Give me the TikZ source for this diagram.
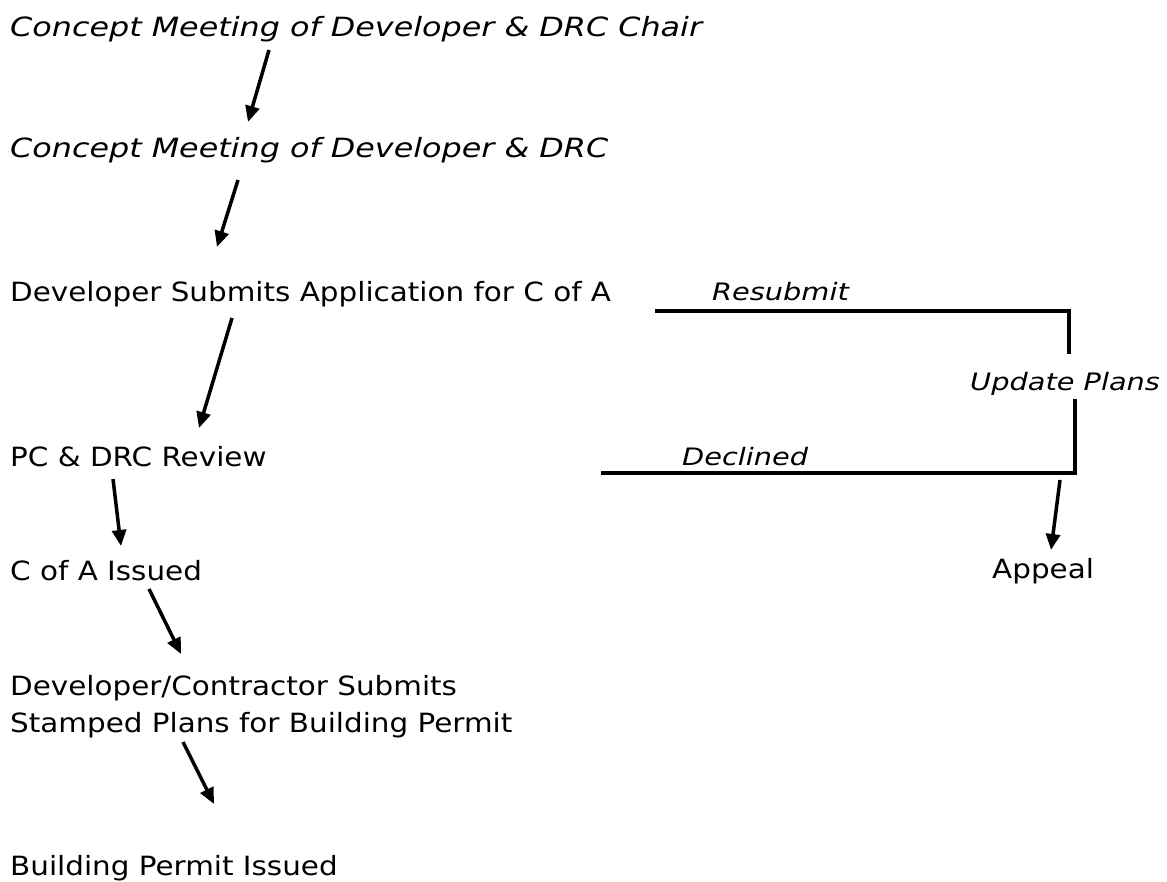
\documentclass[tikz,border=0pt]{standalone}
\usepackage{fontspec}
\setmainfont{DejaVu Sans}[FakeStretch=1.11]
\newfontfamily\remarkfont{DejaVu Sans}[FakeStretch=1.2]
\usetikzlibrary{arrows.meta}

\tikzset{
  stage/.style={anchor=base west, inner sep=0pt, align=left,
    font=\fontsize{26.5}{37}\selectfont},
  remark/.style={stage, font=\remarkfont\fontsize{26.5}{37}\selectfont\itshape},
  sidenote/.style={stage, font=\remarkfont\fontsize{24}{30}\selectfont\itshape},
  flow/.style={line width=3.5pt, -{Triangle[length=16pt,width=14pt]}},
  loopline/.style={line width=3.5pt},
}

\begin{document}
\begin{tikzpicture}[x=1pt, y=-1pt]
  \useasboundingbox (0,0) rectangle (1167,882);
  % main column
  \node[remark] (chair) at (10,37) {Concept Meeting of Developer \& DRC Chair};
  \node[remark] (drc) at (10,158) {Concept Meeting of Developer \& DRC};
  \node[stage] (apply) at (10,302) {Developer Submits Application for C of A};
  \node[stage] (review) at (10,466) {PC \& DRC Review};
  \node[stage] (issued) at (10,580) {C of A Issued};
  \node[stage] (stamped) at (10,732) {Developer/Contractor Submits\\Stamped Plans for Building Permit};
  \node[stage] (permit) at (10,875) {Building Permit Issued};
  % side branch
  \node[sidenote] (resubmit) at (712,301) {Resubmit};
  \node[sidenote] (update) at (970,390) {Update Plans};
  \node[sidenote] (declined) at (682,465) {Declined};
  \node[stage] (appeal) at (992,578) {Appeal};

  \draw[flow] ([shift={(259,13)}]chair.base west) -- ([shift={(238,-36)}]drc.base west);
  \draw[flow] ([shift={(228,22)}]drc.base west) -- ([shift={(207,-55)}]apply.base west);
  \draw[flow] ([shift={(222,16)}]apply.base west) -- ([shift={(189,-38)}]review.base west);
  \draw[flow] ([shift={(103,13)}]review.base west) -- ([shift={(111,-34)}]issued.base west);
  \draw[flow] ([shift={(139,9)}]issued.base west) -- ([shift={(171,-78)}]stamped.base west);
  \draw[flow] ([shift={(173,10)}]stamped.base west) -- ([shift={(204,-71)}]permit.base west);

  \draw[loopline] ([shift={(-57,10)}]resubmit.base west) -| ([shift={(99,-36)}]update.base west);
  \draw[loopline] ([shift={(105,9)}]update.base west) |- ([shift={(-81,8)}]declined.base west);
  \draw[flow] ([shift={(68,-98)}]appeal.base west) -- ([shift={(59,-28)}]appeal.base west);
\end{tikzpicture}
\end{document}
